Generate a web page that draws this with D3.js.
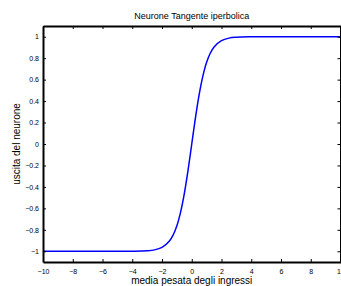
<!DOCTYPE html>
<html>
<head>
<meta charset="utf-8">
<script src="https://cdn.jsdelivr.net/npm/d3@7"></script>
<style>
  body { margin: 0; background: #fff; }
  text { font-family: "Liberation Sans", Arial, sans-serif; fill: #000; }
</style>
</head>
<body>
<svg class="mainSvg"></svg>
<script>
(function () {
  // ===========================================================================
  //     data area
  // ===========================================================================
  const inputs = [-10, -6, -4, -3, -2.5, -2, -1.5, -1.25, -1, -0.75, -0.5, -0.25, 0,
    0.25, 0.5, 0.75, 1, 1.25, 1.5, 2, 2.5, 3, 4, 6, 10];
  const outputs = [-1, -1, -0.999, -0.995, -0.987, -0.964, -0.905, -0.848, -0.762, -0.635, -0.462, -0.245, 0,
    0.245, 0.462, 0.635, 0.762, 0.848, 0.905, 0.964, 0.987, 0.995, 0.999, 1, 1];
  const xTicks = [-10, -8, -6, -4, -2, 0, 2, 4, 6, 8, 10];
  const yTicks = [-1, -0.8, -0.6, -0.4, -0.2, 0, 0.2, 0.4, 0.6, 0.8, 1];

  const width = 341;
  const height = 286;
  const margin = { left: 43, right: 0.5, top: 26, bottom: 24 };
  const tickLen = 3;

  const svg = d3.select('.mainSvg')
    .attr('width', width)
    .attr('height', height);

  const x = d3.scaleLinear().domain([-10, 10]).range([margin.left, width - margin.right]);
  const y = d3.scaleLinear().domain([-1.1, 1.1]).range([height - margin.bottom, margin.top]);

  // ===========================================================================
  //      curve
  // ===========================================================================
  const line = d3.line()
    .x(d => x(d[0]))
    .y(d => y(d[1]))
    .curve(d3.curveCatmullRom);

  svg.append('path')
    .datum(d3.zip(inputs, outputs))
    .attr('d', line)
    .attr('fill', 'none')
    .attr('stroke', '#0000ff')
    .attr('stroke-width', 1.5);

  // ===========================================================================
  //      axes (box with inward ticks)
  // ===========================================================================
  const fmt = d => (d < 0 ? '\u2212' + Math.abs(d) : String(d));

  svg.append('g')
    .attr('transform', `translate(0,${y(-1.1)})`)
    .call(d3.axisBottom(x).tickValues(xTicks).tickSizeInner(-tickLen).tickSizeOuter(0).tickPadding(7).tickFormat(fmt));
  svg.append('g')
    .attr('transform', `translate(0,${y(1.1)})`)
    .call(d3.axisTop(x).tickValues(xTicks).tickSizeInner(-tickLen).tickSizeOuter(0).tickFormat(''));
  svg.append('g')
    .attr('transform', `translate(${x(-10)},0)`)
    .call(d3.axisLeft(y).tickValues(yTicks).tickSizeInner(-tickLen).tickSizeOuter(0).tickPadding(4).tickFormat(fmt));
  svg.append('g')
    .attr('transform', `translate(${x(10)},0)`)
    .call(d3.axisRight(y).tickValues(yTicks).tickSizeInner(-tickLen).tickSizeOuter(0).tickFormat(''));

  svg.selectAll('.domain').attr('stroke', '#000').attr('stroke-width', 2);
  svg.selectAll('.tick line').attr('stroke', '#000').attr('stroke-width', 1);
  svg.selectAll('.tick text')
    .style('font-family', '"Liberation Sans", Arial, sans-serif')
    .style('font-size', '7px');

  // ===========================================================================
  //      titles
  // ===========================================================================
  svg.append('text')
    .attr('x', (x(-10) + x(10)) / 2)
    .attr('y', 19)
    .attr('text-anchor', 'middle')
    .style('font-size', '9px')
    .text('Neurone Tangente iperbolica');

  svg.append('text')
    .attr('x', (x(-10) + x(10)) / 2)
    .attr('y', 284)
    .attr('text-anchor', 'middle')
    .style('font-size', '10px')
    .text('media pesata degli ingressi');

  svg.append('text')
    .attr('transform', `translate(20,${y(0)}) rotate(-90)`)
    .attr('text-anchor', 'middle')
    .style('font-size', '10px')
    .text('uscita del neurone');
})();
</script>
</body>
</html>
